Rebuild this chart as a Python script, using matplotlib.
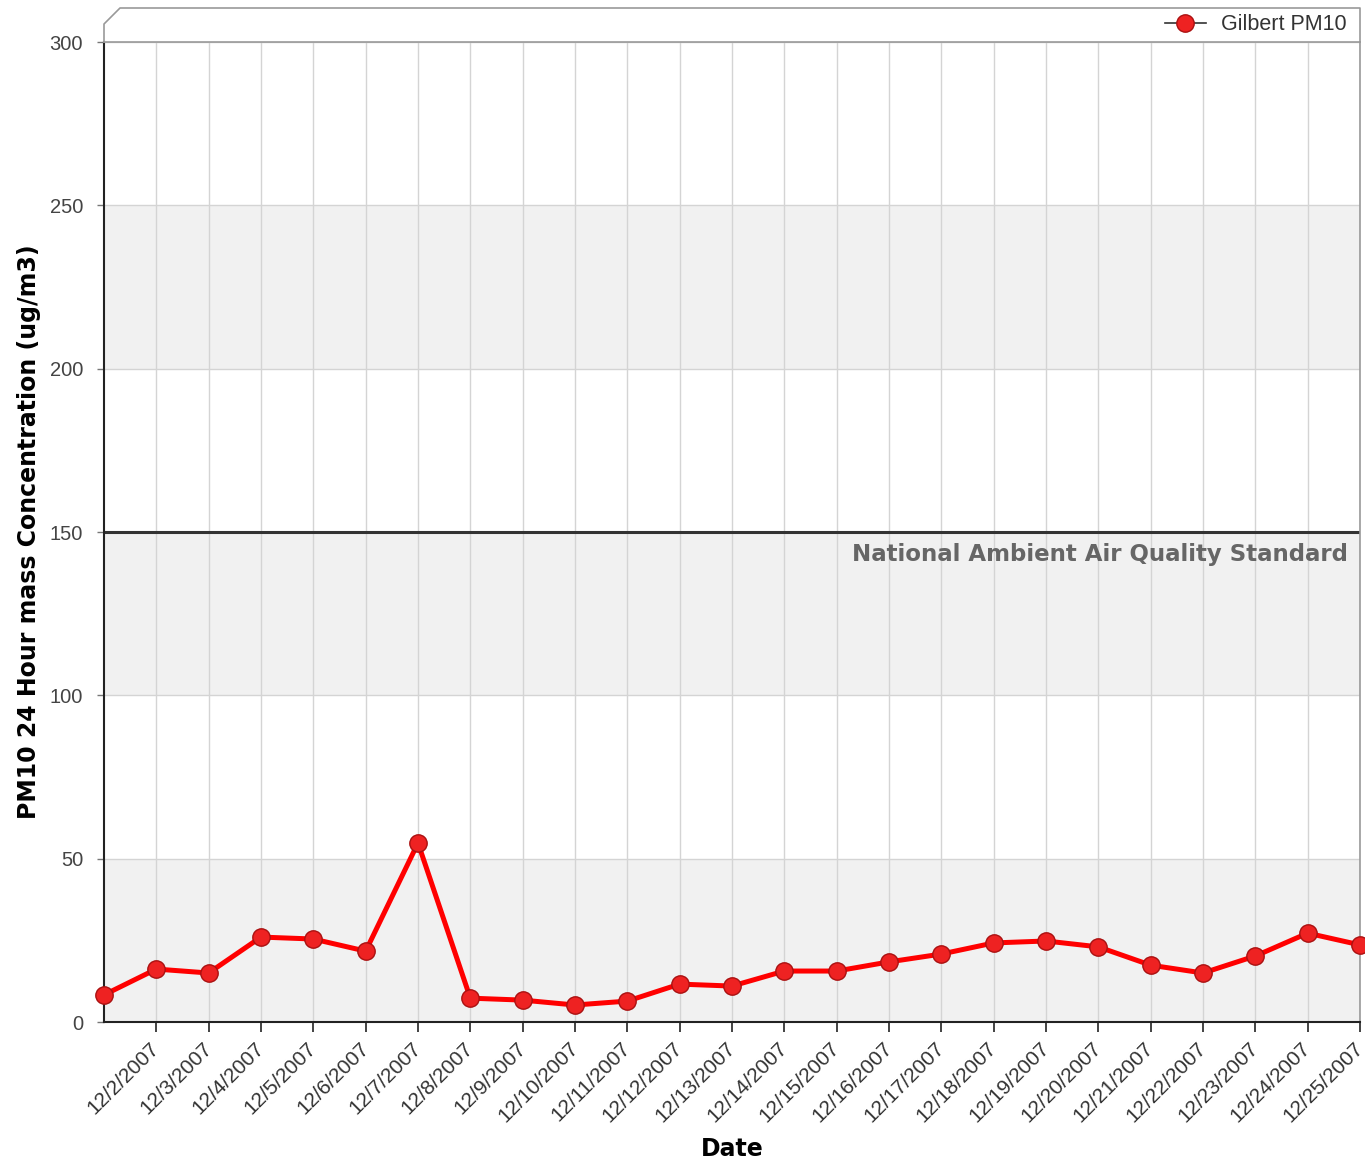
import numpy as np
import matplotlib.pyplot as plt
from matplotlib.lines import Line2D

dates = ['12/1/2007', '12/2/2007', '12/3/2007', '12/4/2007', '12/5/2007', '12/6/2007',
         '12/7/2007', '12/8/2007', '12/9/2007', '12/10/2007', '12/11/2007', '12/12/2007',
         '12/13/2007', '12/14/2007', '12/15/2007', '12/16/2007', '12/17/2007', '12/18/2007',
         '12/19/2007', '12/20/2007', '12/21/2007', '12/22/2007', '12/23/2007', '12/24/2007',
         '12/25/2007']
pm10 = [8.3, 16.2, 15.0, 26.0, 25.4, 21.7, 54.8, 7.3, 6.7, 5.2, 6.4, 11.6, 11.0,
        15.6, 15.6, 18.4, 20.8, 24.2, 24.8, 23.0, 17.4, 15.0, 20.2, 27.2, 23.6]
standard = 150
y_ticks = [0, 50, 100, 150, 200, 250, 300]

W, H = 1365, 1168
fig = plt.figure(figsize=(W / 100, H / 100), dpi=100)

def fx(px):
    return px / W

def fy(py):
    return 1 - py / H

ax = fig.add_axes([fx(104), fy(1022), fx(1360) - fx(104), fy(42) - fy(1022)])
x = np.arange(len(dates))

# alternating bands
for lo in range(0, 300, 100):
    ax.axhspan(lo, lo + 50, color='#f1f1f1', zorder=0, lw=0)
for v in y_ticks[1:]:
    ax.axhline(v, color='#d4d4d4', lw=1, zorder=1)
for xi in x[1:]:
    ax.axvline(xi, color='#d4d4d4', lw=1, zorder=1)

ax.axhline(standard, color='#333333', lw=2.2, zorder=2)
ax.text(len(dates) - 1.23, standard - 7, 'National Ambient Air Quality Standard',
        ha='right', va='center', fontsize=16.5, fontweight='bold', color='#666666', zorder=3)

ax.plot(x, pm10, '-o', color='#ff0000', lw=3.6, markersize=12.5,
        markerfacecolor='#ee2222', markeredgecolor='#aa1111', markeredgewidth=1,
        label='Gilbert PM10', zorder=4, clip_on=False)

ax.set_xlim(0, len(dates) - 1)
ax.set_ylim(0, 300)
ax.set_xticks(x[1:])
ax.set_xticklabels(dates[1:], rotation=45, ha='right', va='center', rotation_mode='anchor',
                   fontsize=15, color='#333333', family='Liberation Sans')
ax.set_yticks(y_ticks)
ax.set_yticklabels([str(v) for v in y_ticks], fontsize=14.5, color='#444444',
                   family='Liberation Sans')
ax.tick_params(axis='x', direction='out', length=7, width=1.2, color='#222222', pad=10)
ax.tick_params(axis='y', direction='out', length=5, width=1, color='#777777', pad=10)

for s in ['top', 'right']:
    ax.spines[s].set_color('#999999')
    ax.spines[s].set_linewidth(1.2)
for s in ['left', 'bottom']:
    ax.spines[s].set_color('#222222')
    ax.spines[s].set_linewidth(1.5)

ax.set_xlabel('Date', fontsize=17, fontweight='bold', labelpad=8)
ax.set_ylabel('PM10 24 Hour mass Concentration (ug/m3)', fontsize=17,
              fontweight='bold', labelpad=6)

# 3d header frame
c = '#999999'
fig.add_artist(Line2D([fx(104), fx(104), fx(120), fx(1360), fx(1360)],
                      [fy(42), fy(24), fy(8), fy(8), fy(42)],
                      transform=fig.transFigure, color=c, lw=1.2))

leg = fig.legend(loc='center right', bbox_to_anchor=(fx(1357), fy(25)),
                 frameon=False, prop={'family': 'Liberation Sans', 'size': 15.5},
                 handlelength=1.9, borderpad=0, handletextpad=0.7)
for t in leg.get_texts():
    t.set_color('#333333')
leg.get_lines()[0].set_color('#333333')
leg.get_lines()[0].set_linewidth(1.2)

fig.savefig('out.png', dpi=100)
